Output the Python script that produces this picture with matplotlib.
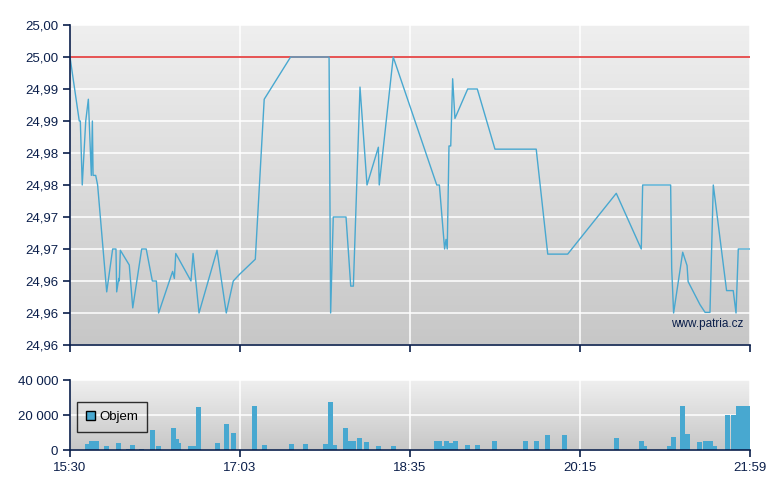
#
# plot.py
#
# Intraday price and volume chart (15:30 - 21:59) in the patria.cz style:
# price line on top with the previous close as a red line, volume bars below.
#

import matplotlib
matplotlib.use('Agg')
import matplotlib.pyplot as plt
import numpy as np

plt.rcParams['font.family'] = ['Liberation Sans', 'DejaVu Sans']

#
# Price trace: minutes from 15:30 and price
#
t_price = [0.0, 5.3, 5.9, 7.0, 9.0, 10.5, 12.2, 12.8, 13.2, 14.7, 15.8,
           21.0, 24.4, 26.3, 26.7, 27.9, 28.2, 28.8, 33.9, 35.9, 41.0,
           43.6, 47.1, 49.4, 50.7, 58.7, 59.7, 60.5, 69.2, 70.4, 73.8,
           84.1, 89.4, 93.4, 97.2, 106.0, 111.1, 126.2, 148.2, 149.1,
           150.6, 157.9, 160.6, 162.1, 165.9, 169.9, 176.4, 176.9, 184.9,
           209.8, 211.3, 214.3, 215.1, 215.8, 216.8, 217.8, 218.9, 220.2,
           227.5, 233.0, 243.1, 266.7, 273.3, 284.7, 312.5, 326.8, 327.6,
           343.6, 344.2, 345.3, 350.5, 353.0, 353.6, 360.4, 363.3, 366.1,
           368.0, 375.6, 379.4, 381.0, 382.3, 389.0]
price = [25.000, 24.990, 24.990, 24.980, 24.990, 24.9934, 24.9815, 24.990,
         24.9815, 24.9815, 24.980, 24.9633, 24.970, 24.970, 24.9633,
         24.9654, 24.965, 24.9698, 24.9675, 24.9608, 24.970, 24.970,
         24.965, 24.965, 24.960, 24.9665, 24.9654, 24.9693, 24.965,
         24.9693, 24.960, 24.9698, 24.960, 24.965, 24.9661, 24.9684,
         24.9934, 25.000, 25.000, 24.960, 24.975, 24.975, 24.9642,
         24.9642, 24.9953, 24.980, 24.9859, 24.980, 25.000, 24.980,
         24.980, 24.970, 24.9715, 24.970, 24.9861, 24.9861, 24.9966,
         24.9904, 24.995, 24.995, 24.9856, 24.9856, 24.9692, 24.9692,
         24.9787, 24.970, 24.980, 24.980, 24.967, 24.960, 24.9695,
         24.9674, 24.9649, 24.9613, 24.9601, 24.9601, 24.980, 24.9635,
         24.9635, 24.960, 24.970, 24.970]
prev_close = 25.00

#
# Volume bars: minutes from 15:30 and traded volume
#
t_vol = [10.0, 12.3, 14.9, 20.9, 27.5, 33.5, 35.8, 40.9, 47.2, 50.6, 59.2,
         60.9, 61.8, 68.9, 70.6, 73.5, 84.4, 89.5, 93.5, 105.8, 111.3,
         126.7, 134.7, 146.4, 149.0, 151.3, 157.6, 160.4, 162.2, 165.6,
         169.6, 176.7, 185.0, 209.6, 211.3, 213.4, 215.6, 218.2, 220.5,
         227.4, 233.1, 242.8, 260.5, 266.8, 273.1, 283.1, 312.6, 326.9,
         328.6, 342.9, 345.2, 350.3, 353.2, 360.1, 363.5, 366.4, 368.6,
         376.1, 379.5, 382.7, 385.5, 387.8]
volume = [3460, 5190, 5190, 2500, 4040, 580, 2880, 580, 11540, 2300, 12690,
          6350, 4040, 2300, 2300, 24800, 4040, 15000, 9800, 25400, 2880,
          3460, 3460, 3460, 27700, 2880, 12690, 5190, 5190, 6920, 4620,
          2300, 2300, 5190, 5190, 2300, 5190, 4040, 5190, 2880, 2880, 5190,
          5190, 5190, 8650, 8650, 6920, 5190, 2300, 2300, 7500, 25400, 9230,
          4620, 5190, 5190, 2300, 20200, 20200, 25400, 25400, 25400]

#
# Axes labelling
#
x_ticks = [0, 97.25, 194.5, 291.75, 389]
x_labels = ['15:30', '17:03', '18:35', '20:15', '21:59']
y_ticks = [24.955, 24.960, 24.965, 24.970, 24.975, 24.980, 24.985, 24.990,
           24.995, 25.000, 25.005]
y_labels = ['24,96', '24,96', '24,96', '24,97', '24,97', '24,98', '24,98',
            '24,99', '24,99', '25,00', '25,00']
v_ticks = [0, 20000, 40000]
v_labels = ['0', '20 000', '40 000']

navy = '#0b1f4b'
blue = '#48a8d0'


def style_axes(ax):
    # Gray vertical gradient background, white grid, navy left/bottom axis
    grad = np.linspace(0, 1, 256).reshape(-1, 1)
    ax.imshow(grad, extent=[0, 1, 0, 1], transform=ax.transAxes,
              cmap=matplotlib.colors.LinearSegmentedColormap.from_list(
                  'g', ['#c7c7c7', '#efefef']),
              origin='lower', aspect='auto', zorder=0)
    ax.grid(True, color='white', lw=1.1, zorder=1)
    ax.set_axisbelow(True)
    for s in ['top', 'right']:
        ax.spines[s].set_visible(False)
    for s in ['left', 'bottom']:
        ax.spines[s].set_color(navy)
        ax.spines[s].set_linewidth(1.2)
        ax.spines[s].set_zorder(5)
    ax.tick_params(colors=navy, labelsize=9.5, length=5, width=1.2,
                   direction='out')


fig = plt.figure(figsize=(7.8, 4.9), dpi=100)
ax1 = fig.add_axes([70/780, 1 - 345/490, 680/780, 320/490])
ax2 = fig.add_axes([70/780, 1 - 450/490, 680/780, 70/490])

#
# Price panel
#
style_axes(ax1)
ax1.axhline(prev_close, color='#e02424', lw=1.1, zorder=2)
ax1.plot(t_price, price, color=blue, lw=1, zorder=3)
ax1.set_xlim(0, 389)
ax1.set_ylim(24.955, 25.005)
ax1.set_xticks(x_ticks)
ax1.set_xticklabels([])
ax1.set_yticks(y_ticks)
ax1.set_yticklabels(y_labels)
ax1.text(0.99, 0.065, 'www.patria.cz', transform=ax1.transAxes,
         ha='right', va='center', color=navy, fontsize=8.5, zorder=4)

#
# Volume panel
#
style_axes(ax2)
ax2.bar(t_vol, volume, width=2.9, color=blue, zorder=3, label='Objem')
ax2.set_xlim(0, 389)
ax2.set_ylim(0, 40000)
ax2.set_xticks(x_ticks)
ax2.set_xticklabels(x_labels)
ax2.set_yticks(v_ticks)
ax2.set_yticklabels(v_labels)

leg = ax2.legend(loc='center left', bbox_to_anchor=(0.0, 0.47),
                 fontsize=9.5, frameon=True, fancybox=False,
                 handlelength=0.7, handleheight=0.7, handletextpad=0.3,
                 borderpad=0.7, borderaxespad=0.5)
leg.get_frame().set_edgecolor('black')
leg.get_frame().set_facecolor('none')
leg.get_frame().set_linewidth(1)
for h in leg.legend_handles:
    h.set_edgecolor('black')
    h.set_linewidth(1)

fig.savefig('out.png', dpi=100)
